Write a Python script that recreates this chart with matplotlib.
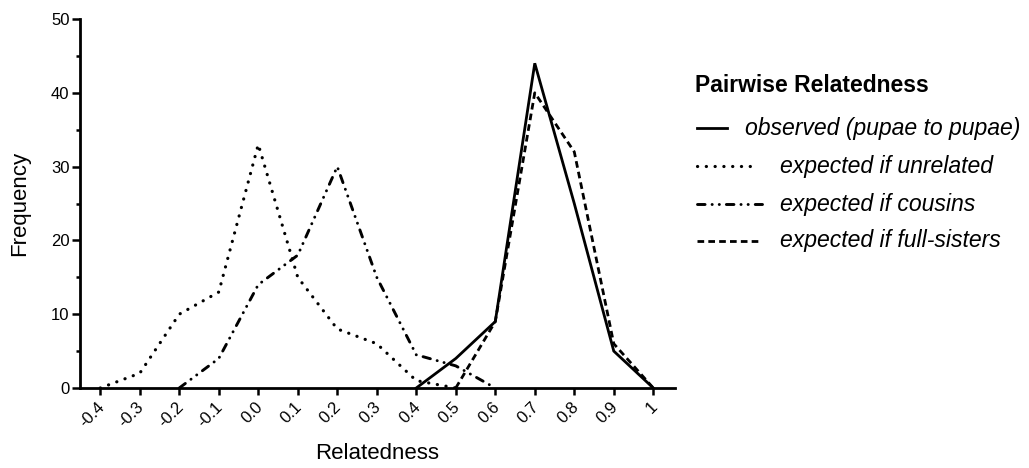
import matplotlib
matplotlib.use("Agg")
import matplotlib.pyplot as plt
from matplotlib.lines import Line2D
from matplotlib.ticker import MultipleLocator, FixedLocator, FixedFormatter
import matplotlib.transforms as mtransforms

plt.rcParams['font.family'] = ['Liberation Sans', 'DejaVu Sans']

# ---- data ----
x_observed = [0.4, 0.5, 0.6, 0.7, 0.8, 0.9, 1.0]
observed = [0, 4, 9, 44, 25, 5, 0]

x_unrelated = [-0.4, -0.3, -0.2, -0.1, 0.0, 0.1, 0.2, 0.3, 0.4, 0.5]
unrelated = [0, 2, 10, 13, 33, 15, 8, 6, 1, 0]

x_cousins = [-0.2, -0.1, 0.0, 0.1, 0.2, 0.3, 0.4, 0.5, 0.6]
cousins = [0, 4, 14, 18, 30, 15, 4.5, 3, 0]

x_sisters = [0.5, 0.6, 0.7, 0.8, 0.9, 1.0]
sisters = [0, 9, 40, 32, 6, 0]

tick_values = [-0.4, -0.3, -0.2, -0.1, 0.0, 0.1, 0.2, 0.3, 0.4, 0.5, 0.6, 0.7, 0.8, 0.9, 1.0]
tick_labels = ["-0.4", "-0.3", "-0.2", "-0.1", "0.0", "0.1", "0.2", "0.3", "0.4",
               "0.5", "0.6", "0.7", "0.8", "0.9", "1"]

legend_title = "Pairwise Relatedness"
legend_labels = ["observed (pupae to pupae)", "expected if unrelated",
                 "expected if cousins", "expected if full-sisters"]

# ---- figure ----
W, H = 1029, 468
fig = plt.figure(figsize=(W / 100, H / 100), dpi=100)
L, R, T, B = 80, 675, 19, 388
ax = fig.add_axes([L / W, 1 - B / H, (R - L) / W, (B - T) / H])

lw = 2.0
col = "black"
solid_kw = dict(color=col, lw=lw, linestyle="-", solid_joinstyle="miter")
dot_kw = dict(color=col, lw=2.3, linestyle=(0, (0.05, 2.7)), dash_capstyle="round")
dashdot_kw = dict(color=col, lw=2.1, linestyle=(0, (2.6, 2.4, 0.05, 2.4, 0.05, 2.4)),
                  dash_capstyle="round")
dash_kw = dict(color=col, lw=lw, linestyle=(0, (2.4, 1.5)), dash_capstyle="butt")

ax.plot(x_unrelated, unrelated, **dot_kw)
ax.plot(x_cousins, cousins, **dashdot_kw)
ax.plot(x_sisters, sisters, **dash_kw)
ax.plot(x_observed, observed, **solid_kw)

ax.set_xlim(-0.4513, 1.055)
ax.set_ylim(0, 50)

for s in ["top", "right"]:
    ax.spines[s].set_visible(False)
for s in ["left", "bottom"]:
    ax.spines[s].set_linewidth(2.0)

ax.xaxis.set_major_locator(FixedLocator(tick_values))
ax.xaxis.set_major_formatter(FixedFormatter(tick_labels))
ax.yaxis.set_major_locator(MultipleLocator(10))
ax.yaxis.set_minor_locator(MultipleLocator(5))

ax.tick_params(axis="x", which="major", length=5.0, width=1.8, direction="out",
               labelsize=12, pad=3)
ax.tick_params(axis="y", which="major", length=5.5, width=1.8, direction="out",
               labelsize=12, pad=2)
ax.tick_params(axis="y", which="minor", length=3.0, width=1.8, direction="out")

offset = mtransforms.ScaledTranslation(7 / 100, 0, fig.dpi_scale_trans)
for lab in ax.get_xticklabels():
    lab.set_rotation(45)
    lab.set_ha("right")
    lab.set_va("top")
    lab.set_transform(lab.get_transform() + offset)

ax.set_xlabel("Relatedness", fontsize=16)
ax.set_ylabel("Frequency", fontsize=16)
ax.xaxis.set_label_coords(0.5, -(443 - B) / (B - T), transform=ax.transAxes)
ax.xaxis.label.set_va("top")
# y label: anchor is the right edge of the rotated text
ax.yaxis.set_label_coords(-(L - 30) / (R - L), 0.5, transform=ax.transAxes)

# ---- legend (drawn manually in figure pixel coordinates) ----
def fx(px):
    return px / W

def fy(py):
    return 1 - py / H

fig.text(fx(695), fy(85), legend_title, fontsize=16.5, fontweight="bold",
         ha="left", va="center")

styles = [solid_kw, dot_kw, dashdot_kw, dash_kw]
rows_y = [128, 166, 204, 241]
handle_end = [727, 758, 762, 762]
text_x = [745, 780, 780, 780]
for kw, yy, xe, tx, lab in zip(styles, rows_y, handle_end, text_x, legend_labels):
    fig.add_artist(Line2D([fx(697), fx(xe)], [fy(yy), fy(yy)],
                          transform=fig.transFigure, **kw))
    fig.text(fx(tx), fy(yy), lab, fontsize=16.6, fontstyle="italic",
             ha="left", va="center")

fig.savefig("out.png", dpi=100, facecolor="white")
